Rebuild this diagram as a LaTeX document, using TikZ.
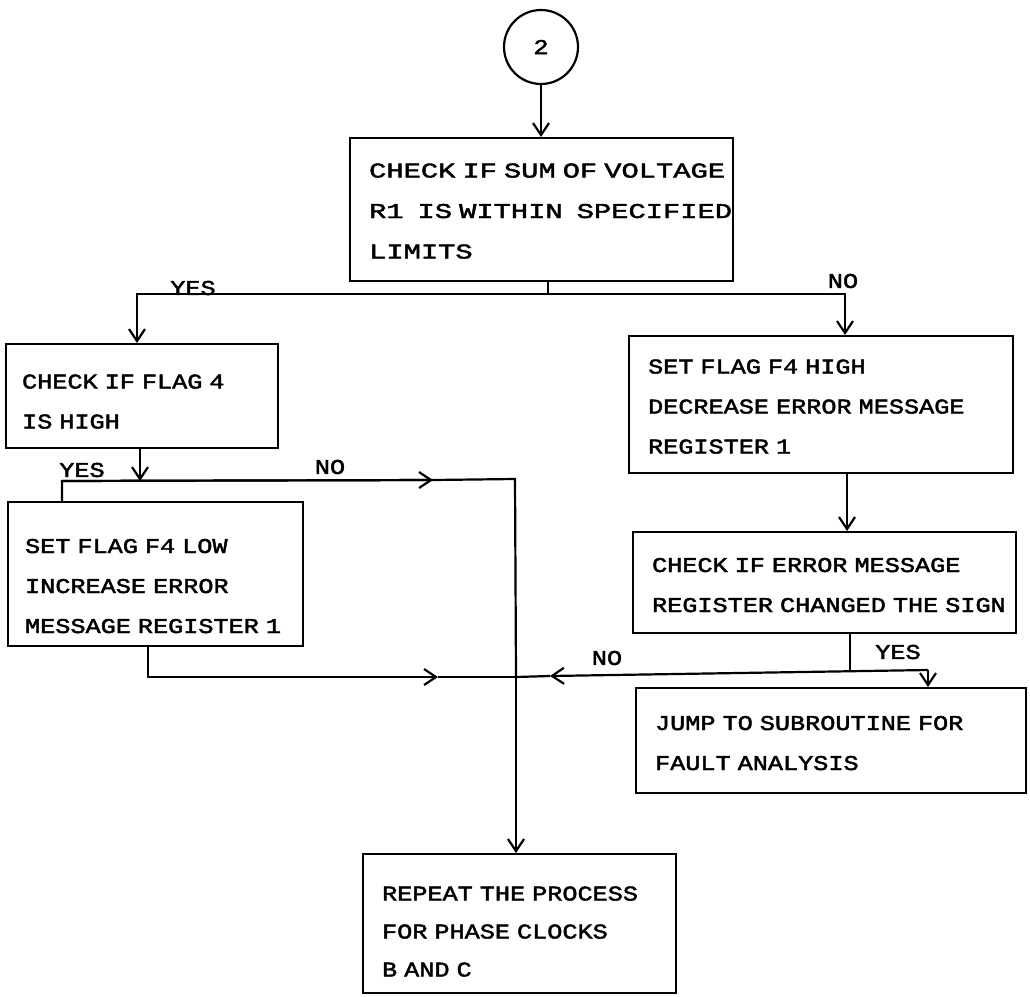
\documentclass[tikz,border=0pt]{standalone}
\usepackage{fontspec}
\newfontfamily\plotfont[FakeStretch=1.2, FakeBold=2.2]{Liberation Mono}
\newfontfamily\plotwide[FakeStretch=1.37, FakeBold=2.2]{Liberation Mono}
\usetikzlibrary{arrows.meta}
\newcommand\topgap[1]{\rule{0pt}{#1pt}}
\newcommand\plotsize[1]{\plotfont\fontsize{21}{#1}\selectfont\fontdimen2\font=13pt\relax}
\newcommand\plotwidesize[1]{\plotwide\fontsize{21}{#1}\selectfont\fontdimen2\font=14pt\relax}
\begin{document}
\begin{tikzpicture}[x=1pt,y=-1pt, line width=2.2pt,
  box/.style={draw, rectangle, anchor=north west, inner xsep=19pt, inner ysep=0pt,
    align=left, font=\plotsize{40}},
  widebox/.style={box, font=\plotwidesize{40.5}},
  lbl/.style={font=\plotsize{24}, inner sep=0pt},
  arr/.style={-{Straight Barb[length=12pt,width=16pt]}}]
\useasboundingbox (0,0) rectangle (1030,996);
% nodes
\node[draw, circle, minimum size=74pt, lbl] (c2) at (541,47) {2};
\node[widebox, minimum width=383pt, minimum height=143pt, text width=345pt] (b1) at (349,137)
  {\mbox{\topgap{17}CHECK IF SUM OF VOLTAGE}\\\mbox{R1\ \ IS WITHIN\ \ SPECIFIED}\\\mbox{LIMITS}};
\node[box, minimum width=272pt, minimum height=104pt, text width=240pt, inner xsep=16pt] (b2) at (5,343)
  {\topgap{25}CHECK~IF~FLAG~4\\IS~HIGH};
\node[box, minimum width=295pt, minimum height=144pt, text width=261pt, inner xsep=17pt] (b3) at (7,501)
  {\topgap{38}SET~FLAG~F4~LOW\\INCREASE~ERROR\\MESSAGE~REGISTER~1};
\node[box, minimum width=384pt, minimum height=137pt, text width=346pt] (r1) at (628,335)
  {\topgap{18}SET~FLAG~F4~HIGH\\DECREASE~ERROR~MESSAGE\\REGISTER~1};
\node[box, minimum width=383pt, minimum height=101pt, text width=345pt] (r2) at (632,531)
  {\topgap{19}CHECK~IF~ERROR~MESSAGE\\REGISTER~CHANGED~THE~SIGN};
\node[box, minimum width=390pt, minimum height=105pt, text width=352pt] (jb) at (635,687)
  {\topgap{19}JUMP~TO~SUBROUTINE~FOR\\FAULT~ANALYSIS};
\node[box, minimum width=313pt, minimum height=139pt, text width=275pt, font=\plotsize{38}] (pb) at (362,853)
  {\topgap{30}REPEAT~THE~PROCESS\\FOR~PHASE~CLOCKS\\B~AND~C};
% labels
\node[lbl] (lyes1) at (193,288) {YES};
\node[lbl] (lno1) at (843,281) {NO};
\node[lbl] (lyes2) at (82,470) {YES};
\node[lbl] (lno2) at (330,467) {NO};
\node[lbl] (lno3) at (607,658) {NO};
\node[lbl] (lyes3) at (898,652) {YES};
% coordinates
\coordinate (t1) at (548,294);
\coordinate (tl) at (137,294);
\coordinate (tr) at (845,294);
\coordinate (t2) at (140,481);
\coordinate (t2l) at (62,481);
\coordinate (m1) at (433,480);
\coordinate (t2r) at (515,479);
\coordinate (jn) at (516,677);
\coordinate (t3) at (148,677);
\coordinate (m2) at (438,677);
\coordinate (x5) at (847,0);
\coordinate (t6) at (850,670);
\coordinate (t6r) at (928,670);
\coordinate (m3) at (550,676);
% connectors
\draw[arr] (c2.south) -- (c2.south |- b1.north);
\draw (b1.south -| t1) -- (t1);
\draw[arr] (t1) -- (tl) -- (tl |- b2.north);
\draw[arr] (t1) -- (tr) -- (tr |- r1.north);
\draw[arr] (t2 |- b2.south) -- (t2);
\draw (t2l |- b3.north) -- (t2l) -- (m1);
\draw[arr] (t2l) -- (m1);
\draw (m1) -- (t2r) -- (jn);
\draw[arr] (jn) -- (jn |- pb.north);
\draw[arr] (t3 |- b3.south) -- (t3) -- (m2);
\draw (m2) -- (jn);
\draw[arr] (r1.south -| x5) -- (r2.north -| x5);
\draw (r2.south -| t6) -- (t6);
\draw[arr] (t6r) -- (m3);
\draw (m3) -- (jn);
\draw[arr] (t6r) -- (t6r |- jb.north);
\end{tikzpicture}
\end{document}
